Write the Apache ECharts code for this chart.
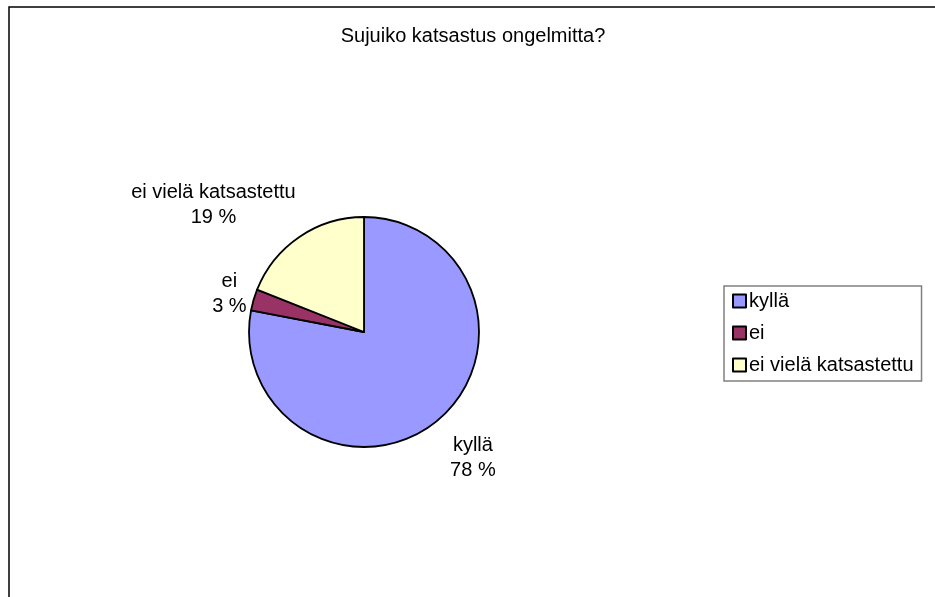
<!DOCTYPE html>
<html>
<head>
<meta charset="utf-8">
<script src="https://cdn.jsdelivr.net/npm/echarts@6/dist/echarts.min.js"></script>
<style>
  html, body { margin: 0; padding: 0; background: #fff; }
  #chart { width: 935px; height: 597px; }
</style>
</head>
<body>
<div id="chart"></div>
<script>
const categories = ["kyllä", "ei", "ei vielä katsastettu"];
const values = [78, 3, 19];
const colors = ["#9999FF", "#993366", "#FFFFCC"];
// label line lengths per slice (label placement only)
const lineLen = [48, 20, 39];
const lineLen2 = [0, 0, 59];

const chart = echarts.init(document.getElementById("chart"));

const pieData = categories.map((name, i) => ({
  name: name,
  value: values[i],
  itemStyle: { color: colors[i] },
  labelLine: { show: false, length: lineLen[i], length2: lineLen2[i] },
}));

const font = "'Liberation Sans', Arial, sans-serif";

const option = {
  animation: false,
  backgroundColor: "#fff",
  title: {
    text: "Sujuiko katsastus ongelmitta?",
    left: 473,
    top: 26,
    textAlign: "center",
    padding: 0,
    textStyle: { fontFamily: font, fontSize: 20, fontWeight: "normal", color: "#000" },
  },
  legend: {
    orient: "vertical",
    left: 724,
    top: 286,
    padding: [5, 8, 6, 8],
    itemGap: 12,
    itemWidth: 13,
    itemHeight: 13,
    icon: "rect",
    borderColor: "#808080",
    borderWidth: 1.5,
    itemStyle: { borderColor: "#000", borderWidth: 2 },
    textStyle: { fontFamily: font, fontSize: 20, lineHeight: 20, color: "#000", padding: [0, 0, 0, -2] },
    data: categories,
  },
  graphic: [
    {
      type: "rect",
      shape: { x: 9, y: 7, width: 1000, height: 1000 },
      style: { fill: null, stroke: "#000", lineWidth: 1.5 },
      silent: true,
    },
  ],
  series: [
    {
      type: "pie",
      center: [364, 332],
      radius: 115,
      startAngle: 90,
      clockwise: true,
      avoidLabelOverlap: false,
      percentPrecision: 0,
      itemStyle: { borderColor: "#000", borderWidth: 1.8 },
      emphasis: { disabled: true },
      label: {
        position: "outside",
        formatter: "{b}\n{d} %",
        fontFamily: font,
        fontSize: 20,
        lineHeight: 25,
        color: "#000",
      },
      labelLayout: function () {
        return { align: "center" };
      },
      data: pieData,
    },
  ],
};

chart.setOption(option);
</script>
</body>
</html>
